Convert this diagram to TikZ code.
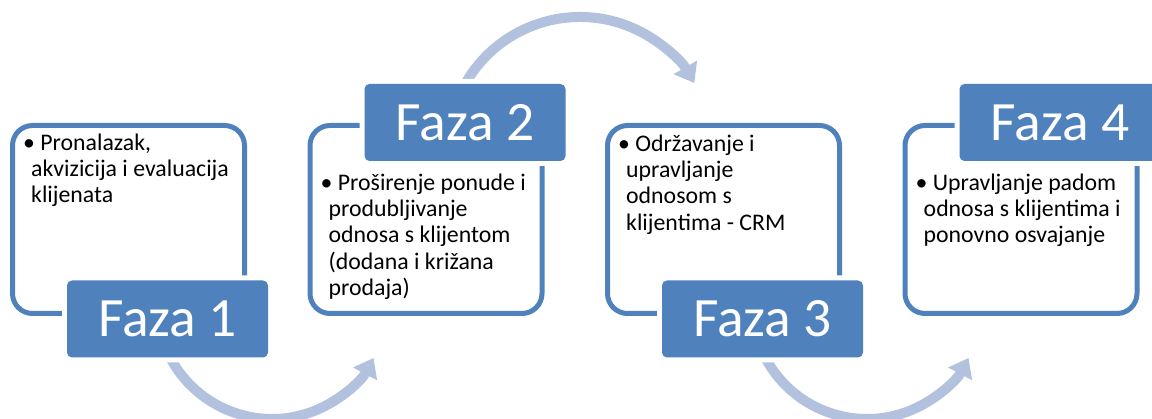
\documentclass[tikz,border=0pt]{standalone}
\usepackage{fontspec}
\setmainfont{Carlito}
\usepackage{tikz}
\usepackage{xcolor}
\usetikzlibrary{arrows.meta}
\definecolor{plava}{RGB}{79,129,189}
\definecolor{svijetla}{RGB}{177,193,222}
\newcommand{\stavke}[1]{\begin{tabular}[t]{@{}l@{}}#1\end{tabular}}

\begin{document}
\begin{tikzpicture} [x = 1pt, y = 1pt,
	okvir/.style = {draw=plava, line width=5pt, rounded corners=20pt, minimum width=232pt, minimum height=188pt},
	faza/.style = {fill=plava, text=white, rounded corners=5pt, minimum width=201pt, minimum height=77pt, inner sep=0pt,
		font=\fontsize{55.5}{60}\selectfont, preaction={draw=white, line width=10pt}},
	opis/.style = {anchor=base west, inner sep=0pt, font=\fontsize{23.8}{26.2}\selectfont},
	strelica/.style = {draw=svijetla, line width=10pt, -{Triangle[width=26pt, length=18pt]}}]
		\useasboundingbox (0, 0) rectangle (1152, 419);
		% strelice izmedu faza
		\coordinate (c1) at (272, 115);
		\coordinate (c2) at (580, 270);
		\coordinate (c3) at (867, 115);
		\draw [strelica] (c1) ++(205:115) arc[start angle=205, end angle=332, radius=115];
		\draw [strelica] (c2) ++(152:132) arc[start angle=152, end angle=30, radius=132];
		\draw [strelica] (c3) ++(205:115) arc[start angle=205, end angle=332, radius=115];
		% okviri
		\node [okvir] (k1) at (128.5, 199.5) {};
		\node [okvir] (k2) at (426, 199.5) {};
		\node [okvir] (k3) at (723.5, 199.5) {};
		\node [okvir] (k4) at (1021, 199.5) {};
			\node [faza] (f1) at ([xshift=39pt, yshift=-3pt] k1.south) {Faza 1};
			\node [faza] (f2) at ([xshift=39pt, yshift=0.5pt] k2.north) {Faza 2};
			\node [faza] (f3) at ([xshift=39pt, yshift=-3pt] k3.south) {Faza 3};
			\node [faza] (f4) at ([xshift=39pt, yshift=0.5pt] k4.north) {Faza 4};
		% tekst
		\node [opis] (t1) at ([xshift=13pt, yshift=-27.5pt] k1.north west)
			{\stavke{\textbullet\ Pronalazak,\\ \hspace*{8pt}akvizicija i evaluacija\\ \hspace*{8pt}klijenata}};
		\node [opis] (t2) at ([xshift=13pt, yshift=-67.5pt] k2.north west)
			{\stavke{\textbullet\ Proširenje ponude i\\ \hspace*{8pt}produbljivanje\\ \hspace*{8pt}odnosa s klijentom\\ \hspace*{8pt}(dodana i križana\\ \hspace*{8pt}prodaja)}};
		\node [opis] (t3) at ([xshift=13pt, yshift=-28.5pt] k3.north west)
			{\stavke{\textbullet\ Održavanje i\\ \hspace*{8pt}upravljanje\\ \hspace*{8pt}odnosom s\\ \hspace*{8pt}klijentima - CRM}};
		\node [opis] (t4) at ([xshift=13pt, yshift=-67.5pt] k4.north west)
			{\stavke{\textbullet\ Upravljanje padom\\ \hspace*{8pt}odnosa s klijentima i\\ \hspace*{8pt}ponovno osvajanje}};
%	\draw[help lines, step = 50pt] (0, 0) grid (1152, 419);
	\end{tikzpicture}
\end{document}
